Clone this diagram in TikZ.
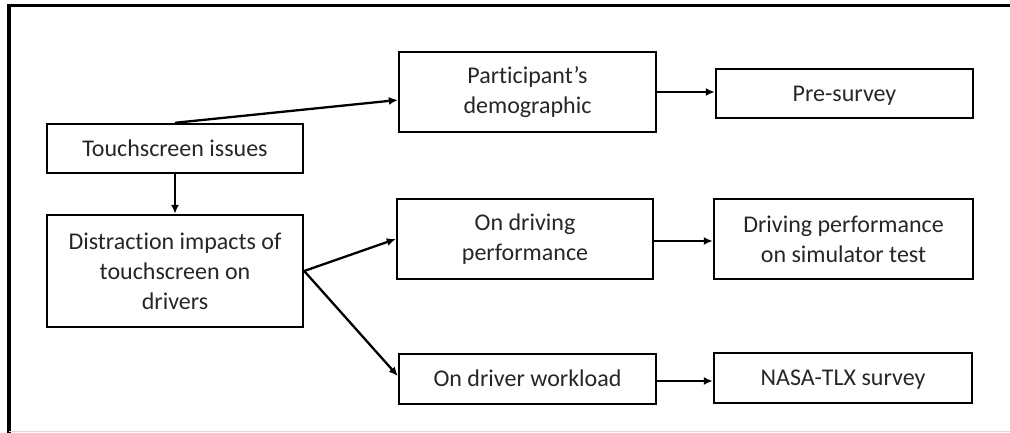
\documentclass[tikz,border=0pt]{standalone}
\usepackage{fontspec}
\setmainfont[Ligatures={NoCommon}]{Carlito}
\usetikzlibrary{arrows.meta,calc}
\begin{document}
\begin{tikzpicture}[x=1pt,y=-1pt,
  box/.style={draw=black,line width=2.4pt,align=center,inner sep=0pt,
    text=black!85,font=\fontsize{24}{30}\selectfont},
  oneline/.style={text height=20pt,text depth=4.6pt},
  link/.style={line width=2.3pt,-{Latex[length=9pt,width=8pt]}}]
\useasboundingbox (0,0) rectangle (1010,433);
% outer frame
\draw[line width=3.5pt] (1015,5.5) -- (9,5.5) -- (9,436);
\draw[line width=1pt,black!15] (9,431.5) -- (1015,431.5);

% left column
\node[box,oneline,minimum width=256pt,minimum height=49pt] (issues) at (175,148.5) {Touchscreen issues};
\node[box,minimum width=256pt,minimum height=112pt] (impacts) at (175,271) {Distraction impacts of\\touchscreen on\\drivers};
% middle column
\node[box,minimum width=257pt,minimum height=80pt] (demo) at (527.5,92) {Participant’s\\demographic};
\node[box,minimum width=256pt,minimum height=80pt] (perf) at (525,239) {On driving\\performance};
\node[box,oneline,minimum width=257pt,minimum height=50pt] (load) at (527.5,379) {On driver workload};
% right column
\node[box,oneline,minimum width=257pt,minimum height=49pt] (pre) at (844.5,93.5) {Pre-survey};
\node[box,minimum width=259pt,minimum height=80pt] (sim) at (843.5,239) {Driving performance\\on simulator test};
\node[box,oneline,minimum width=258pt,minimum height=50pt] (tlx) at (843,378) {NASA-TLX survey};

% connectors
\draw[link] (issues.north) -- ([yshift=-8pt]demo.west);
\draw[link] (issues.south) -- (impacts.north);
\draw[link] (impacts.east) -- (perf.west);
\draw[link] (impacts.east) -- ([yshift=3pt]load.west);
\draw[link] (demo.east) -- (demo.east -| pre.west);
\draw[link] ([yshift=-2pt]perf.east) -- ([yshift=-2pt]perf.east -| sim.west);
\draw[link] ([yshift=-2pt]load.east) -- ([yshift=-2pt]load.east -| tlx.west);
\end{tikzpicture}
\end{document}
